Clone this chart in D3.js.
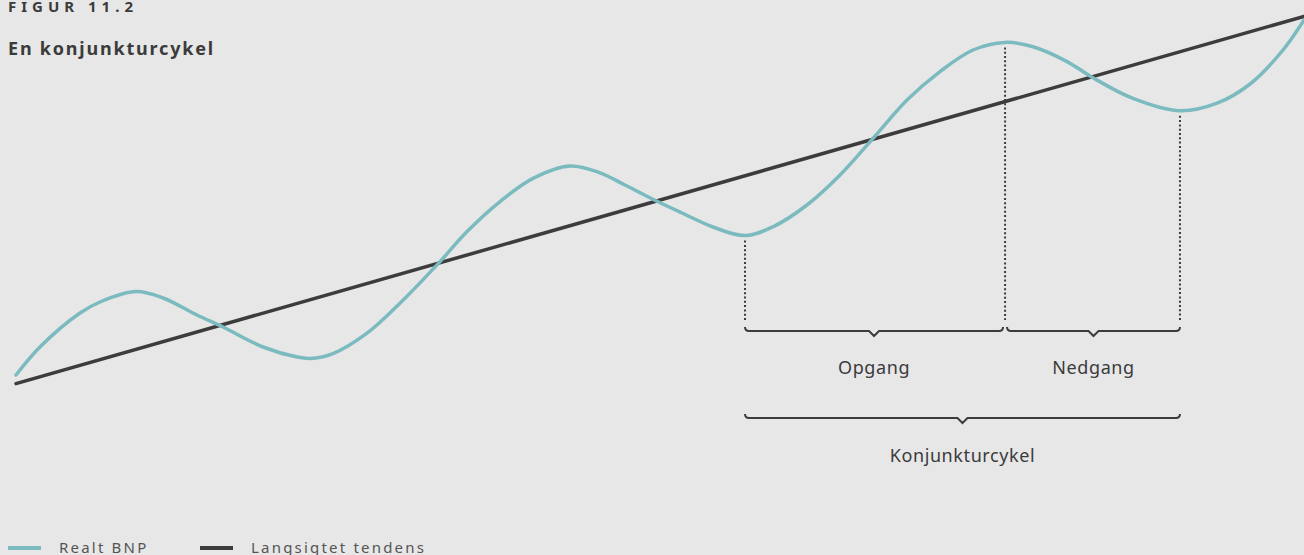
<!DOCTYPE html>
<html>
<head>
<meta charset="utf-8">
<script src="https://cdn.jsdelivr.net/npm/d3@7"></script>
<style>
  html, body { margin: 0; padding: 0; background: #e7e7e7; }
  svg { display: block; }
  text { font-family: "Noto Sans", "Open Sans", sans-serif; fill: #3b3b3b; }
</style>
</head>
<body>
<svg id="chart" width="1304" height="555"></svg>
<script>
// ---- data (time index 0..100, value index) ----
const bnpTime  = [0, 1.86, 4.97, 6.52, 9.32, 11.41, 14.05, 16.07, 19.18, 21.82, 22.83, 24.61, 27.25, 29.81,
                  32.92, 35.02, 37.58, 40.14, 43.01, 45.34, 47.28, 49.69, 51.71, 54.11, 56.6, 58.77, 61.41,
                  63.98, 66.54, 69.18, 71.74, 74.3, 76.79, 78.96, 81.6, 83.54, 86.72, 90.37, 93.25,
                  95.81, 98.37, 100];
const bnpValue = [6.25, 13.25, 21.75, 24.5, 27.1, 25.5, 21.25, 18.25, 13.25, 10.75, 10.4, 11.6, 16.7, 24.2,
                  34.6, 42.1, 49.6, 55.4, 58.5, 56.8, 53.75, 49.8, 46.75, 43.25, 41.1, 43.3, 48.75,
                  56.25, 65.4, 75.0, 82.1, 87.5, 89.4, 88.3, 84.6, 80.7, 75.4, 72.3, 74.2,
                  79.0, 87.5, 95.0];
const trendTime  = [0, 100];
const trendValue = [4.1, 95.9];
// cycle markers: trough, peak, trough
const markerTime  = [56.6, 76.79, 90.37];
const markerValue = [41.1, 89.4, 72.3];
const phaseLabels = ["Opgang", "Nedgang"];
const cycleLabel  = "Konjunkturcykel";
const legendLabels = ["Realt BNP", "Langsigtet tendens"];
const titleText = "FIGUR 11.2";
const subtitleText = "En konjunkturcykel";

// ---- layout ----
const svg = d3.select("#chart");
const x = d3.scaleLinear().domain([0, 100]).range([16, 1304]);
const y = d3.scaleLinear().domain([0, 100]).range([400, 0]);

const teal = "#7bbbc0", dark = "#3c3c3c";

// title
svg.append("text").attr("x", 8).attr("y", 12)
  .style("font-size", "15px").style("font-weight", "bold").style("letter-spacing", "5px")
  .text(titleText);
svg.append("text").attr("x", 8).attr("y", 55)
  .style("font-size", "18px").style("font-weight", "bold").style("letter-spacing", "1.8px")
  .text(subtitleText);

// dotted marker lines
const bracketTop = 320;
svg.selectAll("line.marker").data(markerTime).join("line")
  .attr("class", "marker")
  .attr("x1", d => x(d)).attr("x2", d => x(d))
  .attr("y1", (d, i) => y(markerValue[i]) + 5)
  .attr("y2", bracketTop)
  .attr("stroke", dark).attr("stroke-width", 2)
  .attr("stroke-dasharray", "2,2.3");

// trend line
const lineGen = d3.line().x(d => x(d[0])).y(d => y(d[1]));
svg.append("path")
  .datum(trendTime.map((t, i) => [t, trendValue[i]]))
  .attr("d", lineGen)
  .attr("fill", "none").attr("stroke", dark).attr("stroke-width", 3.5)
  .attr("stroke-linecap", "round");

// BNP curve
svg.append("path")
  .datum(bnpTime.map((t, i) => [t, bnpValue[i]]))
  .attr("d", lineGen.curve(d3.curveCatmullRom.alpha(0.5)))
  .attr("fill", "none").attr("stroke", teal).attr("stroke-width", 3.5)
  .attr("stroke-linecap", "round");

// braces
function brace(x0, x1, yb) {
  const xm = (x0 + x1) / 2, r = 4;
  return `M${x0},${yb - r} Q${x0},${yb} ${x0 + r},${yb} L${xm - 5},${yb} L${xm},${yb + 5} L${xm + 5},${yb} L${x1 - r},${yb} Q${x1},${yb} ${x1},${yb - r}`;
}
const braces = [
  { x0: x(markerTime[0]), x1: x(markerTime[1]) - 2, yb: 331, label: phaseLabels[0], ly: 374 },
  { x0: x(markerTime[1]) + 2, x1: x(markerTime[2]), yb: 331, label: phaseLabels[1], ly: 374 },
  { x0: x(markerTime[0]), x1: x(markerTime[2]), yb: 418, label: cycleLabel, ly: 462 }
];
svg.selectAll("path.brace").data(braces).join("path")
  .attr("class", "brace")
  .attr("d", d => brace(d.x0, d.x1, d.yb))
  .attr("fill", "none").attr("stroke", dark).attr("stroke-width", 2);
svg.selectAll("text.blabel").data(braces).join("text")
  .attr("class", "blabel")
  .attr("x", d => (d.x0 + d.x1) / 2).attr("y", d => d.ly)
  .attr("text-anchor", "middle")
  .style("font-size", "18px").style("letter-spacing", "0.6px")
  .text(d => d.label);

// legend
const legend = [
  { color: teal, label: legendLabels[0], x: 8 },
  { color: dark, label: legendLabels[1], x: 200 }
];
const lg = svg.selectAll("g.leg").data(legend).join("g").attr("class", "leg")
  .attr("transform", d => `translate(${d.x},548)`);
lg.append("line").attr("x1", 0).attr("x2", 33).attr("y1", 0).attr("y2", 0)
  .attr("stroke", d => d.color).attr("stroke-width", 4);
lg.append("text").attr("x", 51).attr("y", 4.5)
  .style("font-size", "15px").style("letter-spacing", "2.2px").style("fill", "#555")
  .text(d => d.label);
</script>
</body>
</html>
